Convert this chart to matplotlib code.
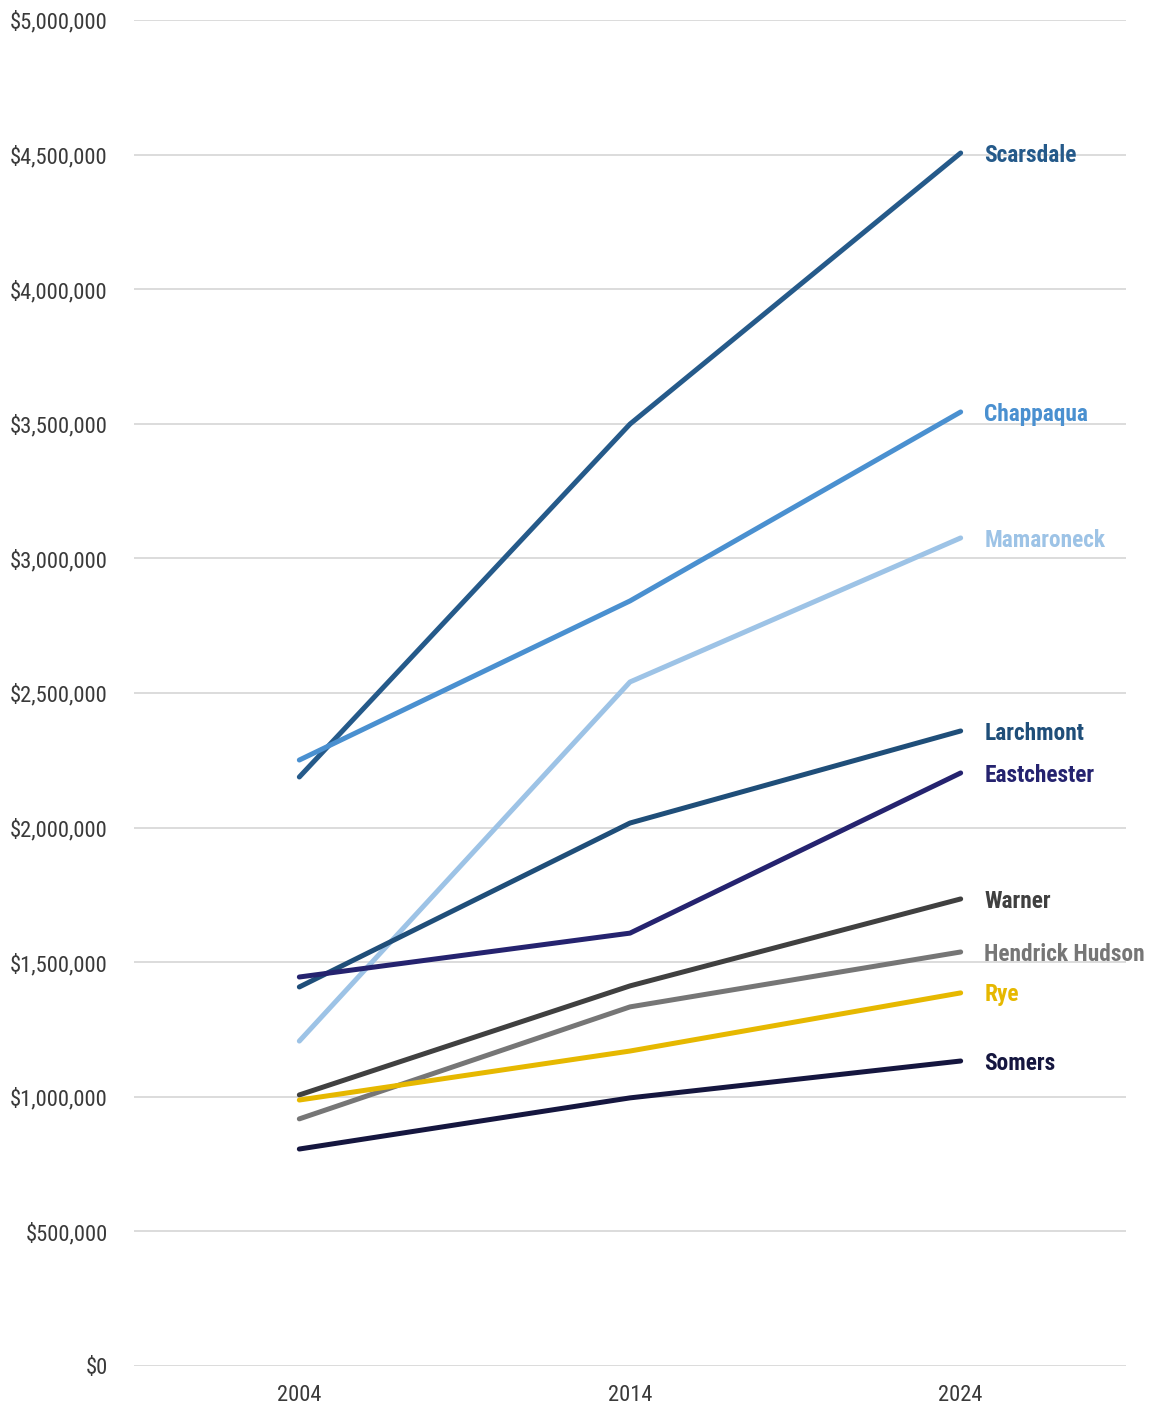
import matplotlib.pyplot as plt
from matplotlib import font_manager
from matplotlib.font_manager import FontProperties
from matplotlib.ticker import FuncFormatter

# narrow face like the original; first pair found on this machine wins
files = {f.fname.split('/')[-1]: f.fname for f in font_manager.fontManager.ttflist}
pairs = [('LiberationSansNarrow-Regular.ttf', 'LiberationSansNarrow-Bold.ttf'),
         ('RobotoCondensed-Regular.ttf', 'RobotoCondensed-Bold.ttf'),
         ('IBMPlexSansCondensed-Regular.ttf', 'IBMPlexSansCondensed-Bold.ttf'),
         ('FiraSansCondensed-Regular.ttf', 'FiraSansCondensed-SemiBold.ttf')]
reg_file, bold_file = None, None
for r, b in pairs:
    if r in files and b in files:
        reg_file, bold_file = files[r], files[b]
        break

years = ['2004', '2014', '2024']
districts = ['Scarsdale', 'Chappaqua', 'Mamaroneck', 'Larchmont', 'Eastchester',
             'Warner', 'Hendrick Hudson', 'Rye', 'Somers']
scarsdale = [2188000, 3499000, 4506000]
chappaqua = [2251000, 2842000, 3544000]
mamaroneck = [1207000, 2541000, 3076000]
larchmont = [1408000, 2017000, 2359000]
eastchester = [1445000, 1608000, 2203000]
warner = [1007000, 1412000, 1735000]
hendrick_hudson = [918000, 1334000, 1538000]
rye = [988000, 1170000, 1386000]
somers = [806000, 996000, 1133000]

series = [scarsdale, chappaqua, mamaroneck, larchmont, eastchester,
          warner, hendrick_hudson, rye, somers]
colors = ['#255a8a', '#4a90d0', '#9dc3e6', '#1f4e79', '#25236f',
          '#404040', '#767676', '#e6b800', '#15163f']

fig = plt.figure(figsize=(11.51, 14.10), dpi=100)
ax = fig.add_axes([134 / 1151, 1 - 1366 / 1410, (1126 - 134) / 1151, (1366 - 20) / 1410])
renderer = fig.canvas.get_renderer()


def fitted(fname, sample, width_px, weight='normal'):
    # font size so that `sample` comes out about width_px wide
    fp = FontProperties(fname=fname, size=16) if fname else FontProperties(family='Liberation Sans', weight=weight, size=16)
    t = fig.text(0, 0, sample, fontproperties=fp)
    w = t.get_window_extent(renderer).width
    t.remove()
    fp.set_size(16 * width_px / w)
    return fp


tick_fp = fitted(reg_file, '$5,000,000', 98)
lab_fp = fitted(bold_file, 'Hendrick Hudson', 161, 'bold')

x = range(len(years))
for name, vals, c in zip(districts, series, colors):
    ax.plot(x, vals, color=c, lw=3.6, solid_capstyle='round', zorder=3)
    ax.annotate(name, (2, vals[-1]), xytext=(17, -1.5), textcoords='offset points',
                va='center', ha='left', color=c, fontproperties=lab_fp)

ax.set_xlim(-0.5, 2.5)
ax.set_ylim(0, 5000000)
ax.set_yticks(range(0, 5000001, 500000))
ax.yaxis.set_major_formatter(FuncFormatter(lambda v, p: f'${v:,.0f}'))
ax.set_xticks(list(x))
ax.set_xticklabels(years)
ax.grid(axis='y', color='#d9d9d9', lw=1.3, zorder=0)
for s in ax.spines.values():
    s.set_visible(False)
ax.tick_params(length=0, colors='#3a3a3a')
ax.tick_params(axis='y', pad=19)
ax.tick_params(axis='x', pad=14)
for lbl in ax.get_xticklabels() + ax.get_yticklabels():
    lbl.set_fontproperties(tick_fp)

fig.savefig('out.png', dpi=100)
